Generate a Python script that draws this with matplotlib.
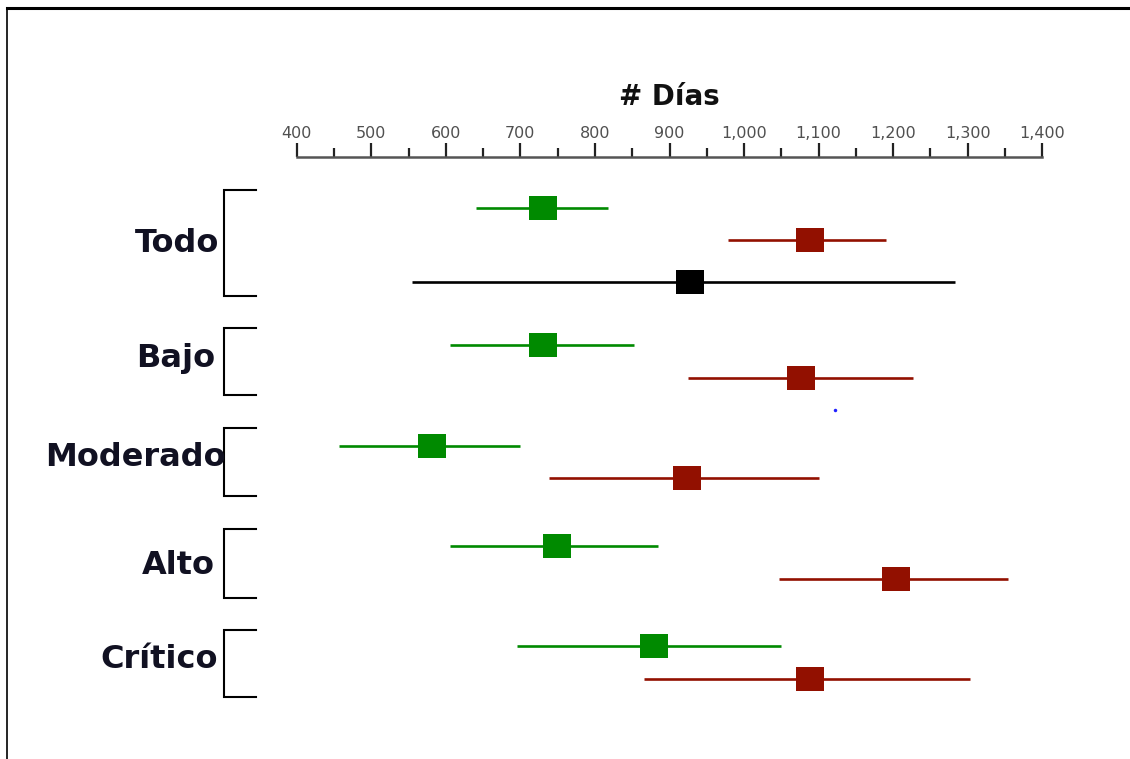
import numpy as np
import matplotlib
matplotlib.use("Agg")
import matplotlib.pyplot as plt
from matplotlib.ticker import MultipleLocator, FuncFormatter
from matplotlib.lines import Line2D

# data (dias)
groups = ['Todo', 'Bajo', 'Moderado', 'Alto', 'Crítico']
green_mid = [731, 730, 581, 749, 879]
green_lo = [640, 606, 457, 606, 696]
green_hi = [818, 852, 699, 885, 1050]
red_mid = [1088, 1076, 924, 1204, 1088]
red_lo = [978, 925, 738, 1047, 866]
red_hi = [1190, 1226, 1100, 1354, 1303]
all_mid = [927]
all_lo = [555]
all_hi = [1283]
blue_pt = [1122]

# layout (pixel rows, top down)
green_y = [208, 345, 446, 546, 646]
red_y = [240, 378, 478, 579, 679]
all_y = [282]
blue_y = [410]
br_top = [190, 328, 428, 529, 630]
br_bot = [296, 395, 496, 598, 697]
lab_y = [244, 358, 458, 565, 660]
lab_x = [219, 215, 226, 215, 218]

W, H = 1130, 759
x0px, x1px = 296.7, 1042.3  # where 400 and 1400 land
ppu = (x1px - x0px) / 1000.0

fig = plt.figure(figsize=(W / 100, H / 100), dpi=100)

# overlay in pixel units for brackets / labels / frame
ov = fig.add_axes([0, 0, 1, 1])
ov.set_xlim(0, W)
ov.set_ylim(H, 0)
ov.axis('off')

# data axes, same vertical pixel units
ax = fig.add_axes([0, 0, 1, 1])
ax.set_xlim(400 - x0px / ppu, 400 + (W - x0px) / ppu)
ax.set_ylim(H, 0)
ax.axis('off')
ax.patch.set_alpha(0)

green = '#008a00'
red = '#921000'
box = [(-0.5, -0.43), (0.5, -0.43), (0.5, 0.43), (-0.5, 0.43), (-0.5, -0.43)]
ms = 20.5

ax.hlines(green_y, green_lo, green_hi, color=green, lw=1.9, zorder=2)
ax.plot(green_mid, green_y, marker=box, color=green, ms=ms, mew=0, ls='none', zorder=3)
ax.hlines(red_y, red_lo, red_hi, color=red, lw=1.9, zorder=2)
ax.plot(red_mid, red_y, marker=box, color=red, ms=ms, mew=0, ls='none', zorder=3)
ax.hlines(all_y, all_lo, all_hi, color='black', lw=1.9, zorder=2)
ax.plot(all_mid, all_y, marker=box, color='black', ms=ms, mew=0, ls='none', zorder=3)
ax.plot(blue_pt, blue_y, 'o', color='#2020ff', ms=2.5, mew=0, zorder=3)

# brackets + group names
for name, t, b, ly, lx in zip(groups, br_top, br_bot, lab_y, lab_x):
    ov.plot([256, 224, 224, 256], [t, t, b, b], color='black', lw=1.5,
            solid_joinstyle='miter')
    ov.text(lx, ly, name, ha='right', va='center', fontsize=23,
            fontweight='bold', color='#111122')

# scale axis on top
sc = fig.add_axes([x0px / W, 1 - 157 / H, (x1px - x0px) / W, 0.5 / H])
sc.set_xlim(400, 1400)
sc.patch.set_alpha(0)
for s in ['left', 'right', 'bottom']:
    sc.spines[s].set_visible(False)
sc.spines['top'].set_color('#555555')
sc.spines['top'].set_linewidth(1.8)
sc.set_yticks([])
sc.xaxis.set_ticks_position('top')
sc.xaxis.set_label_position('top')
sc.xaxis.set_major_locator(MultipleLocator(100))
sc.xaxis.set_minor_locator(MultipleLocator(50))
sc.xaxis.set_major_formatter(FuncFormatter(lambda v, p: f"{v:,.0f}"))
sc.tick_params(axis='x', which='major', direction='out', length=10, width=1.6,
               color='#222222', labelsize=11.5, labelcolor='#505050', pad=1)
sc.tick_params(axis='x', which='minor', direction='out', length=6.5, width=1.6,
               color='#222222')
sc.set_xlabel('# Días', fontsize=20, fontweight='bold', color='#111111', labelpad=15)

# frame lines (top + left)
fig.add_artist(Line2D([7 / W, 1], [1 - 8 / H, 1 - 8 / H], color='black', lw=2.2,
                      transform=fig.transFigure))
fig.add_artist(Line2D([7 / W, 7 / W], [0, 1 - 8 / H], color='black', lw=1.2,
                      transform=fig.transFigure))

fig.savefig('out.png', dpi=100)
